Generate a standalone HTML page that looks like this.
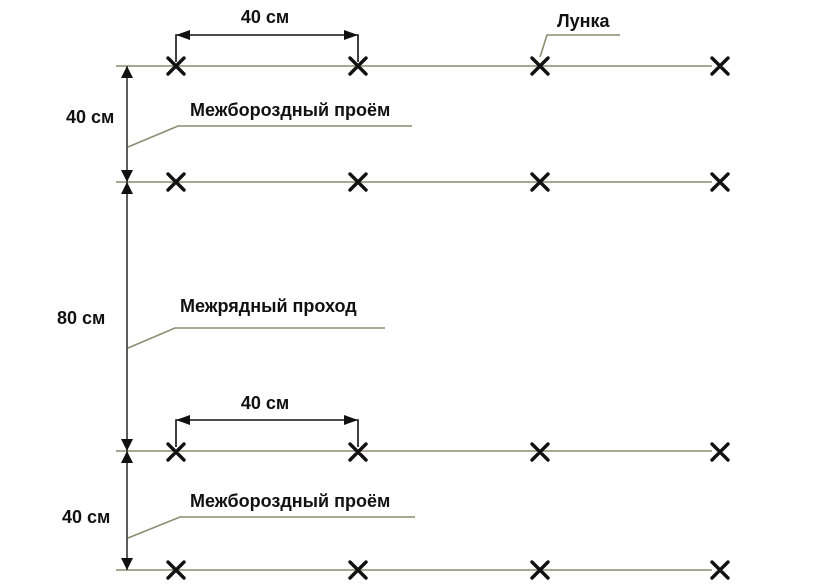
<!DOCTYPE html>
<html><head><meta charset="utf-8"><style>
html,body{margin:0;padding:0;background:#fff;}
svg{display:block;}
text{font-family:"Liberation Sans",sans-serif;font-weight:bold;font-size:18px;fill:#111;}
</style></head><body>
<svg width="840" height="586" viewBox="0 0 840 586" xmlns="http://www.w3.org/2000/svg">
<g stroke="#8c8c72" stroke-width="1.6" fill="none">
<line x1="116" y1="66" x2="712" y2="66"/>
<line x1="116" y1="182" x2="712" y2="182"/>
<line x1="116" y1="451" x2="712" y2="451"/>
<line x1="116" y1="570" x2="712" y2="570"/>
<polyline points="128,147 178,126 412,126"/>
<polyline points="128,348 175,328 385,328"/>
<polyline points="128,538 180,517 415,517"/>
<polyline points="540,57 547,35 620,35"/>
</g>
<line x1="127" y1="66" x2="127" y2="570" stroke="#333" stroke-width="1.6"/>
<g fill="#111">
<polygon points="127,66 121,78 133,78"/>
<polygon points="127,182 121,170 133,170"/>
<polygon points="127,182 121,194 133,194"/>
<polygon points="127,451 121,439 133,439"/>
<polygon points="127,451 121,463 133,463"/>
<polygon points="127,570 121,558 133,558"/>
<polygon points="176,35 190,30 190,40"/>
<polygon points="358,35 344,30 344,40"/>
<polygon points="176,420 190,415 190,425"/>
<polygon points="358,420 344,415 344,425"/>
</g>
<g stroke="#111" stroke-width="1.6" fill="none">
<polyline points="176,62 176,35 358,35 358,62"/>
<polyline points="176,447 176,420 358,420 358,447"/>
</g>
<g stroke="#111" stroke-width="3.4" stroke-linecap="round">
<path d="M168,58l16,16M184,58l-16,16 M350,58l16,16M366,58l-16,16 M532,58l16,16M548,58l-16,16 M712,58l16,16M728,58l-16,16"/>
<path d="M168,174l16,16M184,174l-16,16 M350,174l16,16M366,174l-16,16 M532,174l16,16M548,174l-16,16 M712,174l16,16M728,174l-16,16"/>
<path d="M168,444l16,16M184,444l-16,16 M350,444l16,16M366,444l-16,16 M532,444l16,16M548,444l-16,16 M712,444l16,16M728,444l-16,16"/>
<path d="M168,562l16,16M184,562l-16,16 M350,562l16,16M366,562l-16,16 M532,562l16,16M548,562l-16,16 M712,562l16,16M728,562l-16,16"/>
</g>
<text x="265" y="23" text-anchor="middle">40 см</text>
<text x="265" y="409" text-anchor="middle">40 см</text>
<text x="557" y="27">Лунка</text>
<text x="66" y="123">40 см</text>
<text x="57" y="324">80 см</text>
<text x="62" y="523">40 см</text>
<text x="190" y="116">Межбороздный проём</text>
<text x="180" y="312">Межрядный проход</text>
<text x="190" y="507">Межбороздный проём</text>
</svg>
</body></html>
